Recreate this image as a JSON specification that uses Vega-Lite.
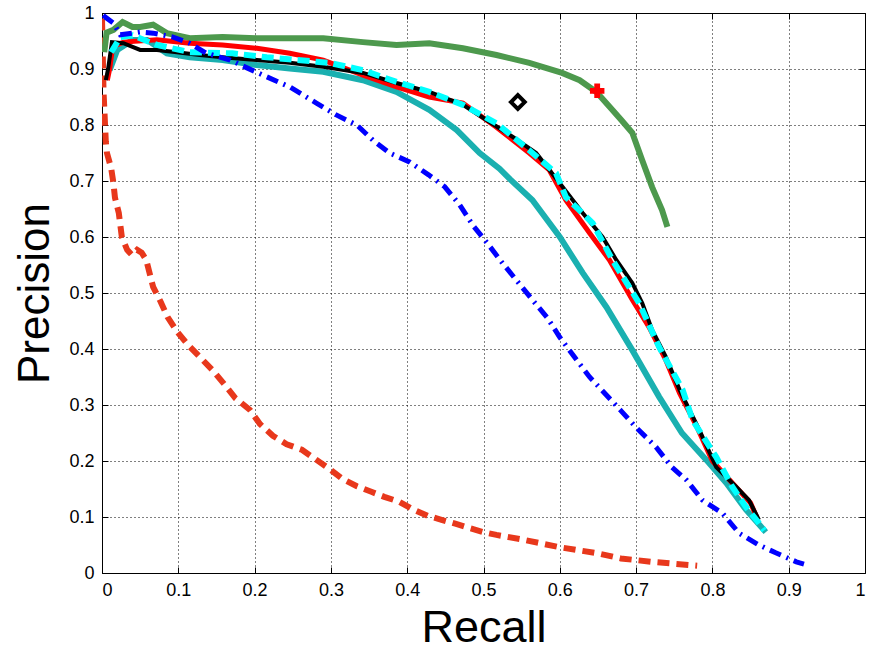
{
  "$schema": "https://vega.github.io/schema/vega-lite/v6.json",
  "width": 763,
  "height": 560,
  "autosize": {"type": "none"},
  "padding": {"left": 102, "top": 13, "right": 10, "bottom": 84},
  "background": "white",
  "config": {
    "view": {"stroke": "black", "strokeWidth": 1},
    "font": "Liberation Sans",
    "axis": {
      "labelFont": "Liberation Sans",
      "labelFontSize": 18,
      "labelColor": "black",
      "titleFont": "Liberation Sans",
      "titleFontWeight": "normal",
      "titleColor": "black",
      "domain": false,
      "tickColor": "black",
      "tickSize": -6,
      "gridColor": "black",
      "gridOpacity": 1,
      "gridDash": [1, 3],
      "gridWidth": 1
    }
  },
  "datasets": {
    "curves": [
      {"s": "reddash", "x": 0.0, "y": 0.99},
      {"s": "reddash", "x": 0.002, "y": 0.86},
      {"s": "reddash", "x": 0.005, "y": 0.77},
      {"s": "reddash", "x": 0.0065, "y": 0.75},
      {"s": "reddash", "x": 0.012, "y": 0.723},
      {"s": "reddash", "x": 0.015, "y": 0.696},
      {"s": "reddash", "x": 0.017, "y": 0.67},
      {"s": "reddash", "x": 0.022, "y": 0.643},
      {"s": "reddash", "x": 0.026, "y": 0.6},
      {"s": "reddash", "x": 0.033, "y": 0.577},
      {"s": "reddash", "x": 0.039, "y": 0.568},
      {"s": "reddash", "x": 0.046, "y": 0.577},
      {"s": "reddash", "x": 0.052, "y": 0.572},
      {"s": "reddash", "x": 0.058, "y": 0.559},
      {"s": "reddash", "x": 0.063, "y": 0.532},
      {"s": "reddash", "x": 0.067, "y": 0.511},
      {"s": "reddash", "x": 0.077, "y": 0.484},
      {"s": "reddash", "x": 0.086, "y": 0.457},
      {"s": "reddash", "x": 0.099, "y": 0.43},
      {"s": "reddash", "x": 0.113, "y": 0.407},
      {"s": "reddash", "x": 0.128, "y": 0.386},
      {"s": "reddash", "x": 0.145, "y": 0.362},
      {"s": "reddash", "x": 0.161, "y": 0.336},
      {"s": "reddash", "x": 0.175, "y": 0.312},
      {"s": "reddash", "x": 0.194, "y": 0.291},
      {"s": "reddash", "x": 0.207, "y": 0.266},
      {"s": "reddash", "x": 0.224, "y": 0.245},
      {"s": "reddash", "x": 0.242, "y": 0.23},
      {"s": "reddash", "x": 0.262, "y": 0.22},
      {"s": "reddash", "x": 0.279, "y": 0.204},
      {"s": "reddash", "x": 0.298, "y": 0.186},
      {"s": "reddash", "x": 0.315, "y": 0.168},
      {"s": "reddash", "x": 0.334, "y": 0.155},
      {"s": "reddash", "x": 0.353, "y": 0.145},
      {"s": "reddash", "x": 0.37, "y": 0.136},
      {"s": "reddash", "x": 0.39, "y": 0.127},
      {"s": "reddash", "x": 0.407, "y": 0.114},
      {"s": "reddash", "x": 0.427, "y": 0.102},
      {"s": "reddash", "x": 0.445, "y": 0.095},
      {"s": "reddash", "x": 0.463, "y": 0.088},
      {"s": "reddash", "x": 0.482, "y": 0.08},
      {"s": "reddash", "x": 0.5, "y": 0.073},
      {"s": "reddash", "x": 0.517, "y": 0.068},
      {"s": "reddash", "x": 0.55, "y": 0.06},
      {"s": "reddash", "x": 0.6, "y": 0.046},
      {"s": "reddash", "x": 0.65, "y": 0.035},
      {"s": "reddash", "x": 0.68, "y": 0.026},
      {"s": "reddash", "x": 0.72, "y": 0.02},
      {"s": "reddash", "x": 0.78, "y": 0.013},

      {"s": "green", "x": 0.003, "y": 0.93},
      {"s": "green", "x": 0.006, "y": 0.965},
      {"s": "green", "x": 0.015, "y": 0.97},
      {"s": "green", "x": 0.027, "y": 0.984},
      {"s": "green", "x": 0.04, "y": 0.975},
      {"s": "green", "x": 0.05, "y": 0.975},
      {"s": "green", "x": 0.067, "y": 0.979},
      {"s": "green", "x": 0.085, "y": 0.964},
      {"s": "green", "x": 0.115, "y": 0.955},
      {"s": "green", "x": 0.158, "y": 0.957},
      {"s": "green", "x": 0.203, "y": 0.955},
      {"s": "green", "x": 0.246, "y": 0.955},
      {"s": "green", "x": 0.29, "y": 0.955},
      {"s": "green", "x": 0.342, "y": 0.948},
      {"s": "green", "x": 0.386, "y": 0.943},
      {"s": "green", "x": 0.429, "y": 0.946},
      {"s": "green", "x": 0.473, "y": 0.937},
      {"s": "green", "x": 0.517, "y": 0.925},
      {"s": "green", "x": 0.56, "y": 0.911},
      {"s": "green", "x": 0.603, "y": 0.893},
      {"s": "green", "x": 0.626, "y": 0.88},
      {"s": "green", "x": 0.648, "y": 0.859},
      {"s": "green", "x": 0.669, "y": 0.827},
      {"s": "green", "x": 0.68, "y": 0.81},
      {"s": "green", "x": 0.695, "y": 0.786},
      {"s": "green", "x": 0.708, "y": 0.737},
      {"s": "green", "x": 0.721, "y": 0.689},
      {"s": "green", "x": 0.734, "y": 0.648},
      {"s": "green", "x": 0.741, "y": 0.618},

      {"s": "teal", "x": 0.01, "y": 0.898},
      {"s": "teal", "x": 0.02, "y": 0.934},
      {"s": "teal", "x": 0.04, "y": 0.952},
      {"s": "teal", "x": 0.059, "y": 0.952},
      {"s": "teal", "x": 0.085, "y": 0.928},
      {"s": "teal", "x": 0.115, "y": 0.921},
      {"s": "teal", "x": 0.158, "y": 0.916},
      {"s": "teal", "x": 0.203, "y": 0.907},
      {"s": "teal", "x": 0.246, "y": 0.901},
      {"s": "teal", "x": 0.29, "y": 0.895},
      {"s": "teal", "x": 0.342, "y": 0.88},
      {"s": "teal", "x": 0.386, "y": 0.859},
      {"s": "teal", "x": 0.429, "y": 0.827},
      {"s": "teal", "x": 0.465, "y": 0.791},
      {"s": "teal", "x": 0.495, "y": 0.75},
      {"s": "teal", "x": 0.521, "y": 0.722},
      {"s": "teal", "x": 0.535, "y": 0.703},
      {"s": "teal", "x": 0.564, "y": 0.666},
      {"s": "teal", "x": 0.6, "y": 0.6},
      {"s": "teal", "x": 0.63, "y": 0.536},
      {"s": "teal", "x": 0.661, "y": 0.475},
      {"s": "teal", "x": 0.695, "y": 0.398},
      {"s": "teal", "x": 0.73, "y": 0.315},
      {"s": "teal", "x": 0.76, "y": 0.25},
      {"s": "teal", "x": 0.792, "y": 0.202},
      {"s": "teal", "x": 0.818, "y": 0.161},
      {"s": "teal", "x": 0.844, "y": 0.113},
      {"s": "teal", "x": 0.87, "y": 0.073},

      {"s": "blue", "x": 0.002, "y": 0.99},
      {"s": "blue", "x": 0.004, "y": 0.993},
      {"s": "blue", "x": 0.015, "y": 0.982},
      {"s": "blue", "x": 0.024, "y": 0.961},
      {"s": "blue", "x": 0.05, "y": 0.966},
      {"s": "blue", "x": 0.067, "y": 0.964},
      {"s": "blue", "x": 0.093, "y": 0.957},
      {"s": "blue", "x": 0.115, "y": 0.946},
      {"s": "blue", "x": 0.137, "y": 0.928},
      {"s": "blue", "x": 0.168, "y": 0.916},
      {"s": "blue", "x": 0.19, "y": 0.902},
      {"s": "blue", "x": 0.216, "y": 0.886},
      {"s": "blue", "x": 0.246, "y": 0.868},
      {"s": "blue", "x": 0.281, "y": 0.839},
      {"s": "blue", "x": 0.307, "y": 0.818},
      {"s": "blue", "x": 0.334, "y": 0.8},
      {"s": "blue", "x": 0.355, "y": 0.773},
      {"s": "blue", "x": 0.377, "y": 0.75},
      {"s": "blue", "x": 0.403, "y": 0.734},
      {"s": "blue", "x": 0.428, "y": 0.711},
      {"s": "blue", "x": 0.449, "y": 0.69},
      {"s": "blue", "x": 0.469, "y": 0.657},
      {"s": "blue", "x": 0.486, "y": 0.621},
      {"s": "blue", "x": 0.505, "y": 0.589},
      {"s": "blue", "x": 0.524, "y": 0.555},
      {"s": "blue", "x": 0.543, "y": 0.523},
      {"s": "blue", "x": 0.564, "y": 0.488},
      {"s": "blue", "x": 0.584, "y": 0.455},
      {"s": "blue", "x": 0.6, "y": 0.421},
      {"s": "blue", "x": 0.619, "y": 0.386},
      {"s": "blue", "x": 0.639, "y": 0.35},
      {"s": "blue", "x": 0.661, "y": 0.318},
      {"s": "blue", "x": 0.68, "y": 0.29},
      {"s": "blue", "x": 0.7, "y": 0.26},
      {"s": "blue", "x": 0.726, "y": 0.225},
      {"s": "blue", "x": 0.747, "y": 0.189},
      {"s": "blue", "x": 0.766, "y": 0.166},
      {"s": "blue", "x": 0.787, "y": 0.13},
      {"s": "blue", "x": 0.813, "y": 0.107},
      {"s": "blue", "x": 0.835, "y": 0.071},
      {"s": "blue", "x": 0.861, "y": 0.05},
      {"s": "blue", "x": 0.883, "y": 0.036},
      {"s": "blue", "x": 0.91, "y": 0.02},
      {"s": "blue", "x": 0.92, "y": 0.016},

      {"s": "red", "x": 0.007, "y": 0.88},
      {"s": "red", "x": 0.01, "y": 0.9},
      {"s": "red", "x": 0.014, "y": 0.94},
      {"s": "red", "x": 0.028, "y": 0.948},
      {"s": "red", "x": 0.072, "y": 0.952},
      {"s": "red", "x": 0.115, "y": 0.946},
      {"s": "red", "x": 0.158, "y": 0.943},
      {"s": "red", "x": 0.203, "y": 0.937},
      {"s": "red", "x": 0.246, "y": 0.928},
      {"s": "red", "x": 0.29, "y": 0.916},
      {"s": "red", "x": 0.342, "y": 0.889},
      {"s": "red", "x": 0.386, "y": 0.868},
      {"s": "red", "x": 0.429, "y": 0.85},
      {"s": "red", "x": 0.473, "y": 0.839},
      {"s": "red", "x": 0.517, "y": 0.796},
      {"s": "red", "x": 0.56, "y": 0.75},
      {"s": "red", "x": 0.586, "y": 0.72},
      {"s": "red", "x": 0.608, "y": 0.666},
      {"s": "red", "x": 0.639, "y": 0.607},
      {"s": "red", "x": 0.665, "y": 0.559},
      {"s": "red", "x": 0.695, "y": 0.488},
      {"s": "red", "x": 0.717, "y": 0.439},
      {"s": "red", "x": 0.739, "y": 0.38},
      {"s": "red", "x": 0.757, "y": 0.321},
      {"s": "red", "x": 0.78, "y": 0.26},
      {"s": "red", "x": 0.8, "y": 0.2},
      {"s": "red", "x": 0.83, "y": 0.155},
      {"s": "red", "x": 0.85, "y": 0.125},
      {"s": "red", "x": 0.858, "y": 0.1},

      {"s": "black", "x": 0.005, "y": 0.88},
      {"s": "black", "x": 0.008, "y": 0.9},
      {"s": "black", "x": 0.013, "y": 0.948},
      {"s": "black", "x": 0.028, "y": 0.946},
      {"s": "black", "x": 0.05, "y": 0.934},
      {"s": "black", "x": 0.072, "y": 0.934},
      {"s": "black", "x": 0.098, "y": 0.93},
      {"s": "black", "x": 0.128, "y": 0.925},
      {"s": "black", "x": 0.158, "y": 0.921},
      {"s": "black", "x": 0.203, "y": 0.916},
      {"s": "black", "x": 0.246, "y": 0.911},
      {"s": "black", "x": 0.29, "y": 0.904},
      {"s": "black", "x": 0.342, "y": 0.893},
      {"s": "black", "x": 0.386, "y": 0.875},
      {"s": "black", "x": 0.429, "y": 0.859},
      {"s": "black", "x": 0.473, "y": 0.836},
      {"s": "black", "x": 0.504, "y": 0.809},
      {"s": "black", "x": 0.538, "y": 0.779},
      {"s": "black", "x": 0.569, "y": 0.75},
      {"s": "black", "x": 0.6, "y": 0.696},
      {"s": "black", "x": 0.63, "y": 0.643},
      {"s": "black", "x": 0.656, "y": 0.6},
      {"s": "black", "x": 0.674, "y": 0.559},
      {"s": "black", "x": 0.695, "y": 0.518},
      {"s": "black", "x": 0.708, "y": 0.482},
      {"s": "black", "x": 0.721, "y": 0.434},
      {"s": "black", "x": 0.739, "y": 0.386},
      {"s": "black", "x": 0.757, "y": 0.327},
      {"s": "black", "x": 0.783, "y": 0.255},
      {"s": "black", "x": 0.805, "y": 0.189},
      {"s": "black", "x": 0.831, "y": 0.154},
      {"s": "black", "x": 0.848, "y": 0.13},
      {"s": "black", "x": 0.861, "y": 0.095},

      {"s": "cyan", "x": 0.012, "y": 0.93},
      {"s": "cyan", "x": 0.024, "y": 0.957},
      {"s": "cyan", "x": 0.04, "y": 0.96},
      {"s": "cyan", "x": 0.072, "y": 0.943},
      {"s": "cyan", "x": 0.115, "y": 0.93},
      {"s": "cyan", "x": 0.171, "y": 0.928},
      {"s": "cyan", "x": 0.216, "y": 0.921},
      {"s": "cyan", "x": 0.281, "y": 0.913},
      {"s": "cyan", "x": 0.298, "y": 0.911},
      {"s": "cyan", "x": 0.342, "y": 0.898},
      {"s": "cyan", "x": 0.386, "y": 0.877},
      {"s": "cyan", "x": 0.429, "y": 0.859},
      {"s": "cyan", "x": 0.473, "y": 0.836},
      {"s": "cyan", "x": 0.517, "y": 0.803},
      {"s": "cyan", "x": 0.56, "y": 0.755},
      {"s": "cyan", "x": 0.595, "y": 0.714},
      {"s": "cyan", "x": 0.608, "y": 0.671},
      {"s": "cyan", "x": 0.643, "y": 0.625},
      {"s": "cyan", "x": 0.669, "y": 0.559},
      {"s": "cyan", "x": 0.704, "y": 0.482},
      {"s": "cyan", "x": 0.73, "y": 0.404},
      {"s": "cyan", "x": 0.761, "y": 0.327},
      {"s": "cyan", "x": 0.774, "y": 0.273},
      {"s": "cyan", "x": 0.805, "y": 0.207},
      {"s": "cyan", "x": 0.826, "y": 0.154},
      {"s": "cyan", "x": 0.844, "y": 0.118},
      {"s": "cyan", "x": 0.861, "y": 0.089},
      {"s": "cyan", "x": 0.868, "y": 0.076}
    ],
    "points": [
      {"s": "plus", "x": 0.649, "y": 0.861},
      {"s": "diamond", "x": 0.545, "y": 0.841}
    ]
  },
  "resolve": {"axis": {"x": "independent", "y": "independent"}},
  "layer": [
    {
      "data": {"name": "curves"},
      "transform": [{"filter": "datum.s === 'reddash'"}],
      "mark": {"type": "line", "color": "#e8381c", "strokeWidth": 6, "strokeDash": [12, 7], "strokeCap": "butt", "clip": true},
      "encoding": {
        "x": {"field": "x", "type": "quantitative", "scale": {"domain": [0, 1], "nice": false},
          "axis": {"orient": "bottom", "values": [0, 0.1, 0.2, 0.3, 0.4, 0.5, 0.6, 0.7, 0.8, 0.9, 1], "format": "~g", "title": "Recall", "titleFontSize": 45, "labelPadding": 14, "titlePadding": 6, "grid": true}},
        "y": {"field": "y", "type": "quantitative", "scale": {"domain": [0, 1], "nice": false},
          "axis": {"orient": "left", "values": [0, 0.1, 0.2, 0.3, 0.4, 0.5, 0.6, 0.7, 0.8, 0.9, 1], "format": "~g", "title": "Precision", "titleFontSize": 44, "labelPadding": 14, "titlePadding": 11, "grid": true}}
      }
    },
    {
      "data": {"name": "curves"},
      "transform": [{"filter": "datum.s === 'green'"}],
      "mark": {"type": "line", "color": "#4d994d", "strokeWidth": 6, "clip": true},
      "encoding": {
        "x": {"field": "x", "type": "quantitative", "axis": {"orient": "top", "values": [0, 0.1, 0.2, 0.3, 0.4, 0.5, 0.6, 0.7, 0.8, 0.9, 1], "labels": false, "title": null, "grid": false}},
        "y": {"field": "y", "type": "quantitative", "axis": {"orient": "right", "values": [0, 0.1, 0.2, 0.3, 0.4, 0.5, 0.6, 0.7, 0.8, 0.9, 1], "labels": false, "title": null, "grid": false}}
      }
    },
    {
      "data": {"name": "curves"},
      "transform": [{"filter": "datum.s === 'teal'"}],
      "mark": {"type": "line", "color": "#1ab0b0", "strokeWidth": 6, "clip": true},
      "encoding": {
        "x": {"field": "x", "type": "quantitative", "axis": null},
        "y": {"field": "y", "type": "quantitative", "axis": null}
      }
    },
    {
      "data": {"name": "curves"},
      "transform": [{"filter": "datum.s === 'red'"}],
      "mark": {"type": "line", "color": "#ff0000", "strokeWidth": 5, "clip": true},
      "encoding": {
        "x": {"field": "x", "type": "quantitative", "axis": null},
        "y": {"field": "y", "type": "quantitative", "axis": null}
      }
    },
    {
      "data": {"name": "curves"},
      "transform": [{"filter": "datum.s === 'black'"}],
      "mark": {"type": "line", "color": "#000000", "strokeWidth": 4, "clip": true},
      "encoding": {
        "x": {"field": "x", "type": "quantitative", "axis": null},
        "y": {"field": "y", "type": "quantitative", "axis": null}
      }
    },
    {
      "data": {"name": "curves"},
      "transform": [{"filter": "datum.s === 'cyan'"}],
      "mark": {"type": "line", "color": "#00ffff", "strokeWidth": 6, "strokeDash": [12, 6], "strokeCap": "butt", "clip": true},
      "encoding": {
        "x": {"field": "x", "type": "quantitative", "axis": null},
        "y": {"field": "y", "type": "quantitative", "axis": null}
      }
    },
    {
      "data": {"name": "curves"},
      "transform": [{"filter": "datum.s === 'blue'"}],
      "mark": {"type": "line", "color": "#0000ff", "strokeWidth": 5, "strokeDash": [12, 6, 2, 6], "strokeCap": "butt", "clip": true},
      "encoding": {
        "x": {"field": "x", "type": "quantitative", "axis": null},
        "y": {"field": "y", "type": "quantitative", "axis": null}
      }
    },
    {
      "data": {"name": "points"},
      "transform": [{"filter": "datum.s === 'plus'"}],
      "mark": {"type": "point", "shape": "cross", "filled": true, "color": "#ff0000", "opacity": 1, "size": 210},
      "encoding": {
        "x": {"field": "x", "type": "quantitative", "axis": null},
        "y": {"field": "y", "type": "quantitative", "axis": null}
      }
    },
    {
      "data": {"name": "points"},
      "transform": [{"filter": "datum.s === 'diamond'"}],
      "mark": {"type": "point", "shape": "diamond", "filled": false, "color": "#000000", "opacity": 1, "strokeWidth": 4, "size": 190},
      "encoding": {
        "x": {"field": "x", "type": "quantitative", "axis": null},
        "y": {"field": "y", "type": "quantitative", "axis": null}
      }
    }
  ]
}
